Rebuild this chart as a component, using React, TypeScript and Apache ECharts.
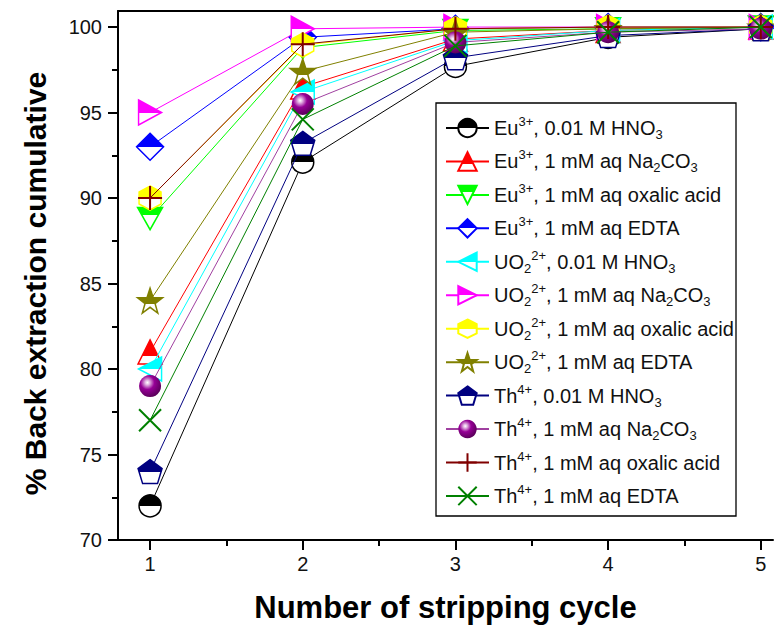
import { useEffect, useRef } from "react";
import * as echarts from "echarts";

// Stripping cycle number (x) and cumulative back extraction in % (y)
const cycles = [1, 2, 3, 4, 5];

const euHNO3 = [72, 92.1, 97.7, 99.4, 99.9];
const euNa2CO3 = [81, 96.5, 99.3, 99.8, 100];
const euOxalic = [88.8, 98.8, 99.8, 99.9, 100];
const euEDTA = [93, 99.4, 99.9, 100, 100];
const uHNO3 = [80, 96.2, 99.2, 99.8, 100];
const uNa2CO3 = [95, 99.9, 100, 100, 100];
const uOxalic = [90, 98.95, 99.9, 100, 100];
const uEDTA = [84, 97.4, 99.7, 99.9, 100];
const thHNO3 = [74, 93.2, 98.2, 99.5, 99.9];
const thNa2CO3 = [79, 95.5, 99.1, 99.7, 99.9];
const thOxalic = [90, 99, 99.9, 100, 100];
const thEDTA = [77, 94.6, 98.9, 99.7, 100];

const xTicks = [1, 2, 3, 4, 5];
const xMinorTicks = [1.5, 2.5, 3.5, 4.5];
const yTicks = [70, 75, 80, 85, 90, 95, 100];
const yMinorTicks = [72.5, 77.5, 82.5, 87.5, 92.5, 97.5];

const FONT = "Arial, 'Liberation Sans', Helvetica, sans-serif";

// Top part of the marker coloured, the rest white; split is the fraction of the height
const halfFill = (c: string, split: number) =>
  new echarts.graphic.LinearGradient(0, 0, 0, 1, [
    { offset: 0, color: c },
    { offset: split, color: c },
    { offset: split, color: "#ffffff" },
    { offset: 1, color: "#ffffff" },
  ]);

const sphereFill = () =>
  new echarts.graphic.RadialGradient(0.38, 0.34, 0.7, [
    { offset: 0, color: "#ffffff" },
    { offset: 0.15, color: "#e2b4e2" },
    { offset: 0.45, color: "#960096" },
    { offset: 1, color: "#560056" },
  ]);

const SYM = {
  downTri: "path://M0,0 L10,0 L5,10 Z",
  leftTri: "path://M0,5 L10,0 L10,10 Z",
  rightTri: "path://M0,0 L10,5 L0,10 Z",
  hexagon: "path://M5,0 L9.33,2.5 L9.33,7.5 L5,10 L0.67,7.5 L0.67,2.5 Z",
  star: "path://M5,0 L6.18,3.6 L9.76,3.6 L6.9,5.8 L7.94,9.4 L5,7.2 L2.06,9.4 L3.1,5.8 L0.24,3.6 L3.82,3.6 Z",
  pentagon: "path://M5,0 L10,3.7 L8.1,10 L1.9,10 L0,3.7 Z",
  plus: "path://M5,0 L5,10 M0,5 L10,5",
  cross: "path://M0,0 L10,10 M10,0 L0,10",
};

type Def = {
  name: string;
  label: string;
  values: number[];
  color: string;
  lineColor: string;
  symbol: string;
  size: number | number[];
  fill: "half" | "sphere" | "none";
  split?: number;
};

const defs: Def[] = [
  { name: "Eu-HNO3", label: "Eu{sup|3+}, 0.01 M HNO{sub|3}", values: euHNO3, color: "#000000", lineColor: "#000000", symbol: "circle", size: 22, fill: "half", split: 0.5 },
  { name: "Eu-Na2CO3", label: "Eu{sup|3+}, 1 mM aq Na{sub|2}CO{sub|3}", values: euNa2CO3, color: "#ff0000", lineColor: "#ff0000", symbol: "triangle", size: 24, fill: "half", split: 0.66 },
  { name: "Eu-oxalic", label: "Eu{sup|3+}, 1 mM aq oxalic acid", values: euOxalic, color: "#00ff00", lineColor: "#00ff00", symbol: SYM.downTri, size: [25, 22], fill: "half", split: 0.36 },
  { name: "Eu-EDTA", label: "Eu{sup|3+}, 1 mM aq EDTA", values: euEDTA, color: "#0000ff", lineColor: "#0000ff", symbol: "diamond", size: 27, fill: "half", split: 0.5 },
  { name: "UO2-HNO3", label: "UO{sub|2}{sup|2+}, 0.01 M HNO{sub|3}", values: uHNO3, color: "#00ffff", lineColor: "#00ffff", symbol: SYM.leftTri, size: [23, 24], fill: "half", split: 0.5 },
  { name: "UO2-Na2CO3", label: "UO{sub|2}{sup|2+}, 1 mM aq Na{sub|2}CO{sub|3}", values: uNa2CO3, color: "#ff00ff", lineColor: "#ff00ff", symbol: SYM.rightTri, size: [23, 25], fill: "half", split: 0.5 },
  { name: "UO2-oxalic", label: "UO{sub|2}{sup|2+}, 1 mM aq oxalic acid", values: uOxalic, color: "#ffff00", lineColor: "#ffff00", symbol: SYM.hexagon, size: [22, 24], fill: "half", split: 0.5 },
  { name: "UO2-EDTA", label: "UO{sub|2}{sup|2+}, 1 mM aq EDTA", values: uEDTA, color: "#808000", lineColor: "#808000", symbol: SYM.star, size: 25, fill: "half", split: 0.62 },
  { name: "Th-HNO3", label: "Th{sup|4+}, 0.01 M HNO{sub|3}", values: thHNO3, color: "#000080", lineColor: "#000080", symbol: SYM.pentagon, size: 24, fill: "half", split: 0.52 },
  { name: "Th-Na2CO3", label: "Th{sup|4+}, 1 mM aq Na{sub|2}CO{sub|3}", values: thNa2CO3, color: "#800080", lineColor: "#a040a0", symbol: "circle", size: 22, fill: "sphere" },
  { name: "Th-oxalic", label: "Th{sup|4+}, 1 mM aq oxalic acid", values: thOxalic, color: "#800000", lineColor: "#800000", symbol: SYM.plus, size: 24, fill: "none" },
  { name: "Th-EDTA", label: "Th{sup|4+}, 1 mM aq EDTA", values: thEDTA, color: "#008000", lineColor: "#008000", symbol: SYM.cross, size: 22, fill: "none" },
];

const X_MIN = 0.79;
const X_MAX = 5.08;
const Y_MIN = 70;
const Y_MAX = 100.94;

export default function App() {
  const ref = useRef<HTMLDivElement>(null);

  useEffect(() => {
    if (!ref.current) return;
    const chart = echarts.init(ref.current, undefined, { renderer: "svg" });

    const labelMap: Record<string, string> = {};
    defs.forEach((d) => (labelMap[d.name] = d.label));

    const series = defs.map((d, i) => ({
      type: "line" as const,
      name: d.name,
      xAxisIndex: 0,
      yAxisIndex: 0,
      data: cycles.map((c, k) => [c, d.values[k]]),
      symbol: d.symbol,
      symbolSize: d.size,
      z: 2 + i * 0.01,
      lineStyle: { color: d.lineColor, width: 1 },
      itemStyle: {
        color:
          d.fill === "half"
            ? halfFill(d.color, d.split ?? 0.5)
            : d.fill === "sphere"
            ? sphereFill()
            : "rgba(0,0,0,0)",
        borderColor: d.fill === "sphere" ? "rgba(0,0,0,0)" : d.color,
        borderWidth: d.fill === "none" ? 2 : 1.5,
      },
      emphasis: { disabled: true },
    }));

    const axisLabelStyle = { fontSize: 20, color: "#111", fontFamily: FONT };

    chart.setOption({
      animation: false,
      backgroundColor: "#ffffff",
      grid: { left: 118, right: 1, top: 11, bottom: 91, containLabel: false },
      xAxis: [
        {
          type: "value",
          min: X_MIN,
          max: X_MAX,
          position: "bottom",
          name: "Number of stripping cycle",
          nameLocation: "middle",
          nameGap: 52,
          nameTextStyle: { fontSize: 31, fontWeight: "bold", color: "#000", fontFamily: FONT },
          axisLine: { show: true, onZero: false, lineStyle: { color: "#000", width: 2 } },
          axisTick: { show: true, inside: false, length: 10, customValues: xTicks, lineStyle: { color: "#000", width: 2 } },
          axisLabel: { show: true, margin: 14, customValues: xTicks, formatter: (v: number) => String(v), ...axisLabelStyle },
          splitLine: { show: false },
        },
        {
          type: "value",
          min: X_MIN,
          max: X_MAX,
          position: "bottom",
          axisLine: { show: false, onZero: false },
          axisTick: { show: true, inside: false, length: 6, customValues: xMinorTicks, lineStyle: { color: "#000", width: 2 } },
          axisLabel: { show: false },
          splitLine: { show: false },
        },
        {
          type: "value",
          min: X_MIN,
          max: X_MAX,
          position: "top",
          axisLine: { show: true, onZero: false, lineStyle: { color: "#000", width: 2 } },
          axisTick: { show: false },
          axisLabel: { show: false },
          splitLine: { show: false },
        },
      ],
      yAxis: [
        {
          type: "value",
          min: Y_MIN,
          max: Y_MAX,
          position: "left",
          name: "% Back extraction cumulative",
          nameLocation: "middle",
          nameGap: 68,
          nameTextStyle: { fontSize: 30, fontWeight: "bold", color: "#000", fontFamily: FONT, padding: [0, 16, 0, 0] },
          axisLine: { show: true, onZero: false, lineStyle: { color: "#000", width: 2 } },
          axisTick: { show: true, inside: false, length: 10, customValues: yTicks, lineStyle: { color: "#000", width: 2 } },
          axisLabel: { show: true, margin: 16, customValues: yTicks, formatter: (v: number) => String(v), ...axisLabelStyle },
          splitLine: { show: false },
        },
        {
          type: "value",
          min: Y_MIN,
          max: Y_MAX,
          position: "left",
          axisLine: { show: false, onZero: false },
          axisTick: { show: true, inside: false, length: 6, customValues: yMinorTicks, lineStyle: { color: "#000", width: 2 } },
          axisLabel: { show: false },
          splitLine: { show: false },
        },
      ],
      legend: {
        orient: "vertical",
        left: 445,
        top: 115,
        padding: 0,
        itemWidth: 43,
        itemHeight: 23,
        itemGap: 7.45,
        z: 10,
        data: defs.map((d) => d.name),
        formatter: (n: string) => labelMap[n] ?? n,
        textStyle: {
          fontSize: 20,
          lineHeight: 26,
          color: "#111",
          fontFamily: FONT,
          rich: {
            sup: { fontSize: 13, lineHeight: 18, verticalAlign: "top", color: "#111", fontFamily: FONT },
            sub: { fontSize: 13, lineHeight: 10, verticalAlign: "bottom", color: "#111", fontFamily: FONT },
          },
        },
      },
      graphic: [
        {
          type: "rect",
          z: 5,
          shape: { x: 436, y: 103, width: 300, height: 413 },
          style: { fill: "#ffffff", stroke: "#000000", lineWidth: 1.3 },
        },
      ],
      series,
    });

    return () => chart.dispose();
  }, []);

  return (
    <div
      ref={ref}
      style={{ position: "absolute", left: 0, top: 0, width: 774, height: 631 }}
    />
  );
}
